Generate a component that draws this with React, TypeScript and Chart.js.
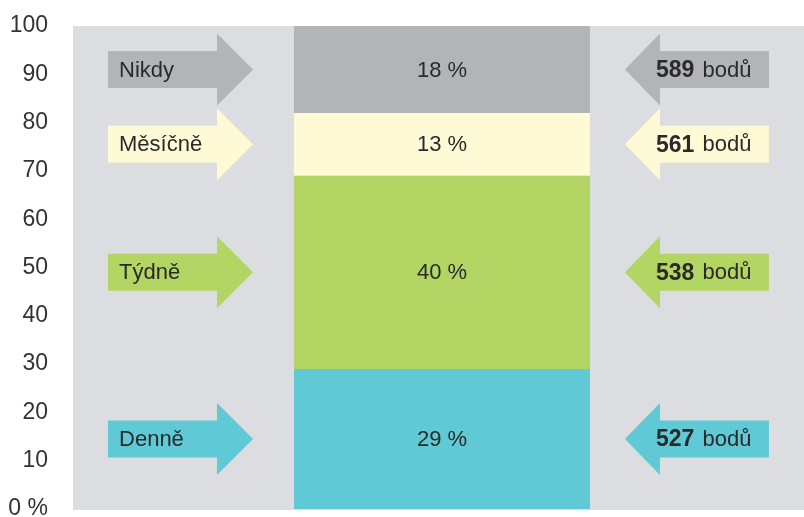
import { useEffect, useRef } from "react";
import { Chart, registerables } from "chart.js";

Chart.register(...registerables);

const categories = ["Denně", "Týdně", "Měsíčně", "Nikdy"];
const shares = [29, 40, 13, 18];
const points = [527, 538, 561, 589];
const colors = ["#5fc9d5", "#b2d563", "#fefad5", "#b3b4b8"];
const yTickValues = [0, 10, 20, 30, 40, 50, 60, 70, 80, 90, 100];
const pointsUnit = "bodů";

const BG = "#dcdde0";
const TEXT = "#2a2a2a";
const FONT = "'Liberation Sans', Arial, sans-serif";

const decorPlugin = {
  id: "decor",
  beforeDatasetsDraw(chart: any) {
    const { ctx, chartArea } = chart;
    ctx.save();
    ctx.fillStyle = BG;
    ctx.fillRect(
      chartArea.left,
      chartArea.top,
      chartArea.right - chartArea.left,
      chartArea.bottom - chartArea.top + 1
    );
    ctx.restore();
  },
  afterDatasetsDraw(chart: any) {
    const { ctx } = chart;
    const y = chart.scales.y;
    const bar = chart.getDatasetMeta(0).data[0] as any;
    const half = bar.width / 2;
    const barL = bar.x - half;
    const barR = bar.x + half;
    let cum = 0;
    ctx.save();
    shares.forEach((v, i) => {
      const mid = y.getPixelForValue(cum + v / 2);
      cum += v;
      const col = colors[i];

      // percent label in bar
      ctx.fillStyle = TEXT;
      ctx.font = `22px ${FONT}`;
      ctx.textAlign = "center";
      ctx.textBaseline = "middle";
      ctx.fillText(`${v} %`, bar.x, mid + 1);

      // left arrow (pointing right)
      const tipL = barL - 41;
      ctx.fillStyle = col;
      ctx.beginPath();
      ctx.moveTo(tipL - 145, mid - 18.5);
      ctx.lineTo(tipL - 36, mid - 18.5);
      ctx.lineTo(tipL - 36, mid - 36);
      ctx.lineTo(tipL, mid);
      ctx.lineTo(tipL - 36, mid + 36);
      ctx.lineTo(tipL - 36, mid + 18.5);
      ctx.lineTo(tipL - 145, mid + 18.5);
      ctx.closePath();
      ctx.fill();
      ctx.fillStyle = TEXT;
      ctx.font = `22px ${FONT}`;
      ctx.textAlign = "left";
      ctx.fillText(categories[i], tipL - 134, mid + 1);

      // right arrow (pointing left)
      const tipR = barR + 35;
      ctx.fillStyle = col;
      ctx.beginPath();
      ctx.moveTo(tipR, mid);
      ctx.lineTo(tipR + 35, mid - 36);
      ctx.lineTo(tipR + 35, mid - 18.5);
      ctx.lineTo(tipR + 144, mid - 18.5);
      ctx.lineTo(tipR + 144, mid + 18.5);
      ctx.lineTo(tipR + 35, mid + 18.5);
      ctx.lineTo(tipR + 35, mid + 36);
      ctx.closePath();
      ctx.fill();
      ctx.fillStyle = TEXT;
      ctx.font = `bold 23px ${FONT}`;
      ctx.textAlign = "left";
      const num = String(points[i]);
      ctx.fillText(num, tipR + 31, mid + 1);
      const w = ctx.measureText(num).width;
      ctx.font = `22px ${FONT}`;
      ctx.fillText(" " + pointsUnit, tipR + 31 + w + 2, mid + 1);
    });
    ctx.restore();
  },
};

export default function App() {
  const canvasRef = useRef<HTMLCanvasElement | null>(null);

  useEffect(() => {
    if (!canvasRef.current) return;
    const chart = new Chart(canvasRef.current, {
      type: "bar",
      data: {
        labels: [""],
        datasets: categories.map((c, i) => ({
          label: c,
          data: [shares[i]],
          backgroundColor: colors[i],
          borderWidth: 0,
          barPercentage: 0.401,
          categoryPercentage: 1,
        })),
      },
      options: {
        animation: false,
        responsive: true,
        maintainAspectRatio: false,
        layout: { padding: { top: 26, right: 1, bottom: 21, left: 0 } },
        plugins: {
          legend: { display: false },
          tooltip: { enabled: false },
        },
        scales: {
          x: { stacked: true, display: false },
          y: {
            stacked: true,
            min: 0,
            max: 100,
            afterBuildTicks: (scale: any) => {
              scale.ticks = yTickValues.map((v) => ({ value: v }));
            },
            afterFit: (scale: any) => {
              scale.width = 73;
              scale.paddingTop = 0;
              scale.paddingBottom = 0;
            },
            grid: { display: false, drawTicks: false },
            border: { display: false },
            ticks: {
              padding: 25,
              color: "#333333",
              font: { family: FONT, size: 23 },
              callback: (v: any) => (Number(v) === 0 ? "0 %" : String(v)),
            },
          },
        },
      },
      plugins: [decorPlugin],
    });
    return () => chart.destroy();
  }, []);

  return (
    <div
      style={{
        position: "fixed",
        left: 0,
        top: 0,
        width: 804,
        height: 517,
        overflow: "hidden",
        background: "#ffffff",
      }}
    >
      <div style={{ position: "absolute", left: 0, top: 0, width: 812, height: 530 }}>
        <canvas ref={canvasRef} />
      </div>
    </div>
  );
}
